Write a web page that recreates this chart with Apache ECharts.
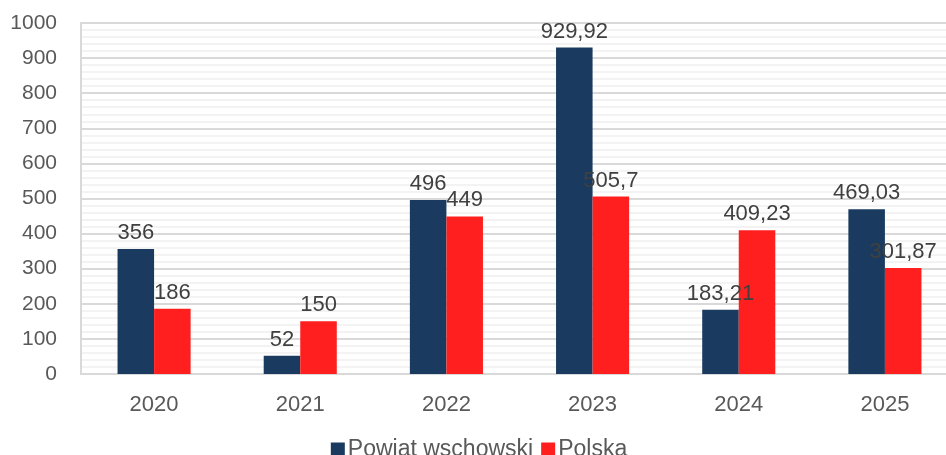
<!DOCTYPE html>
<html>
<head>
<meta charset="utf-8">
<script src="https://cdn.jsdelivr.net/npm/echarts@6/dist/echarts.min.js"></script>
<style>
  html, body { margin: 0; padding: 0; background: #fff; overflow: hidden; }
  /* wykres w Excelu jest przycięty z prawej strony, stąd szerszy kontener */
  #chart { width: 958px; height: 455px; }
</style>
</head>
<body>
<div id="chart"></div>
<script>
var years = ['2020', '2021', '2022', '2023', '2024', '2025']
var powiat = [356, 52, 496, 929.92, 183.21, 469.03]
var polska = [186, 150, 449, 505.7, 409.23, 301.87]
var yTicks = [0, 100, 200, 300, 400, 500, 600, 700, 800, 900, 1000]

var font = '"Liberation Sans", "Noto Sans", sans-serif'

// etykiety z przecinkiem dziesiętnym
function fmt(p) {
    return String(p.value).replace('.', ',')
}

var option = {
    animation: false,
    textStyle: { fontFamily: font },
    grid: { left: 81, top: 23, bottom: 81, right: 0, containLabel: false },
    legend: {
        bottom: -11,
        left: 'center',
        itemWidth: 14,
        itemHeight: 14,
        itemGap: 8,
        icon: 'rect',
        textStyle: { fontSize: 23, color: '#595959', padding: [0, 0, 0, -2] },
        data: ['Powiat wschowski', 'Polska']
    },
    xAxis: {
        type: 'category',
        data: years,
        axisTick: { show: false },
        axisLine: { lineStyle: { color: '#d9d9d9', width: 2 } },
        axisLabel: { fontSize: 22, color: '#595959', margin: 20 }
    },
    yAxis: {
        type: 'value',
        min: yTicks[0],
        max: yTicks[yTicks.length - 1],
        interval: 100,
        axisLine: { show: true, lineStyle: { color: '#d9d9d9', width: 2 } },
        axisTick: { show: false },
        axisLabel: { fontSize: 21, color: '#595959', margin: 24, formatter: function (v) { return String(v) } },
        splitLine: { lineStyle: { color: '#d9d9d9', width: 2 } },
        minorTick: { show: false, splitNumber: 5 },
        minorSplitLine: { show: true, lineStyle: { color: '#efefef', width: 1.5 } }
    },
    series: [
        {
            name: 'Powiat wschowski',
            type: 'bar',
            data: powiat,
            barWidth: '25%',
            barGap: '0%',
            itemStyle: { color: '#1a3b5f' },
            label: { show: true, position: 'top', distance: 5, fontSize: 22, color: '#404040', formatter: fmt }
        },
        {
            name: 'Polska',
            type: 'bar',
            data: polska,
            barWidth: '25%',
            barGap: '0%',
            itemStyle: { color: '#ff1f1f' },
            label: { show: true, position: 'top', distance: 5, fontSize: 22, color: '#404040', formatter: fmt }
        }
    ]
}

echarts.init(document.getElementById('chart')).setOption(option)
</script>
</body>
</html>
